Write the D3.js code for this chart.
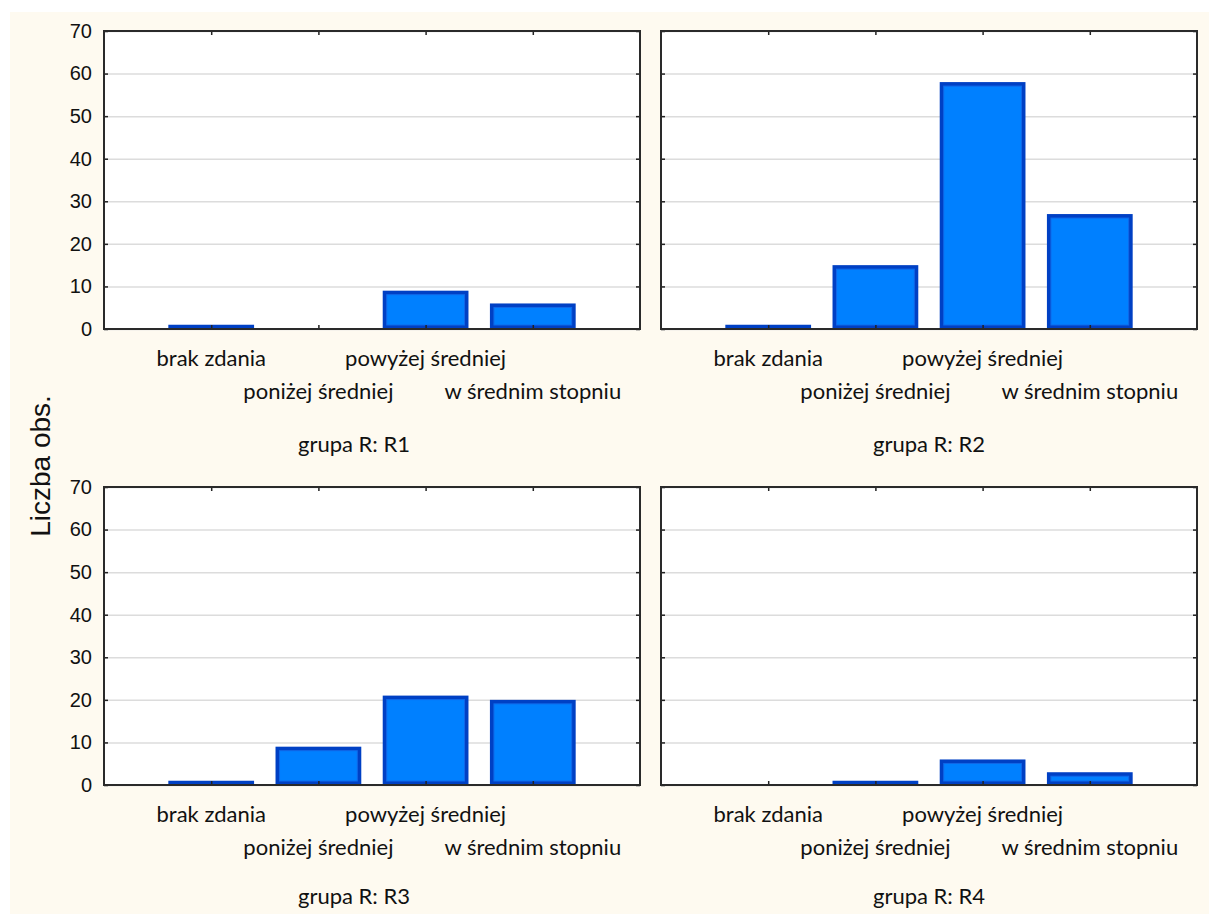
<!DOCTYPE html>
<html>
<head>
<meta charset="utf-8">
<script src="https://cdn.jsdelivr.net/npm/d3@7"></script>
<style>
  body { margin: 0; background: #fff; }
  svg { display: block; }
</style>
</head>
<body>
<div id="chart"></div>
<script>
// Data
const categories = ["brak zdania", "poniżej średniej", "powyżej średniej", "w średnim stopniu"];
const groups = ["R1", "R2", "R3", "R4"];
const valuesR1 = [1, 0, 9, 6];
const valuesR2 = [1, 15, 58, 27];
const valuesR3 = [1, 9, 21, 20];
const valuesR4 = [0, 1, 6, 3];
const yTicks = [0, 10, 20, 30, 40, 50, 60, 70];
const yLabel = "Liczba obs.";

const seriesValues = [valuesR1, valuesR2, valuesR3, valuesR4];

const svgWidth = 1209;
const svgHeight = 914;

const svg = d3.select("#chart")
  .append("svg")
  .attr("width", svgWidth)
  .attr("height", svgHeight);

// cream background of the graph window
svg.append("rect")
  .attr("x", 10)
  .attr("y", 12)
  .attr("width", svgWidth - 10)
  .attr("height", svgHeight - 12)
  .attr("fill", "#fefaf0");

// panel layout (plot areas)
const cols = [{ x0: 104, x1: 640, titleX: 354 }, { x0: 661, x1: 1197, titleX: 929 }];
const rows = [{ y0: 31, y1: 329, titleDy: 123 }, { y0: 487, y1: 785, titleDy: 119 }];

const labelFont = "Lato, 'Open Sans', sans-serif";
const numFont = "'Liberation Sans', Arial, sans-serif";

groups.forEach((grp, i) => {
  const col = cols[i % 2];
  const row = rows[Math.floor(i / 2)];
  const w = col.x1 - col.x0;
  const h = row.y1 - row.y0;
  const vals = seriesValues[i];

  const g = svg.append("g")
    .attr("transform", `translate(${col.x0}, ${row.y0})`);

  const x = d3.scalePoint()
    .domain(categories)
    .range([0, w])
    .padding(1);

  const y = d3.scaleLinear()
    .domain([0, 70])
    .range([h, 0]);

  const barW = x.step() * 0.8;

  // plot area
  g.append("rect")
    .attr("width", w)
    .attr("height", h)
    .attr("fill", "#fff");

  // grid lines
  const grid = g.append("g")
    .call(d3.axisLeft(y).tickValues(yTicks).tickSize(-w).tickFormat(""));
  grid.select(".domain").remove();
  grid.selectAll("line")
    .attr("stroke", "#dcdcdc")
    .attr("stroke-width", 1.5);

  // bars: dark outline rect + lighter inner fill
  const data = categories.map((c, k) => ({ cat: c, value: vals[k] })).filter(d => d.value > 0);

  g.selectAll("rect.bar-outer")
    .data(data)
    .join("rect")
    .attr("class", "bar-outer")
    .attr("x", d => x(d.cat) - barW / 2)
    .attr("y", d => y(d.value))
    .attr("width", barW)
    .attr("height", d => h - y(d.value))
    .attr("fill", "#0040c4");

  const inset = 4;
  g.selectAll("rect.bar-inner")
    .data(data.filter(d => h - y(d.value) > inset * 2))
    .join("rect")
    .attr("class", "bar-inner")
    .attr("x", d => x(d.cat) - barW / 2 + inset)
    .attr("y", d => y(d.value) + inset)
    .attr("width", barW - inset * 2)
    .attr("height", d => h - y(d.value) - inset * 2)
    .attr("fill", "#0080ff")
    .attr("stroke", "#1068e8")
    .attr("stroke-width", 1);

  // inward ticks on all four sides
  const left = g.append("g")
    .call(d3.axisLeft(y).tickValues(yTicks).tickSize(-4).tickPadding(12)
      .tickFormat(i % 2 === 0 ? d3.format("d") : ""));
  left.select(".domain").remove();
  left.selectAll("text")
    .attr("font-family", numFont)
    .attr("font-size", 20)
    .attr("fill", "#111");

  const right = g.append("g")
    .attr("transform", `translate(${w}, 0)`)
    .call(d3.axisRight(y).tickValues(yTicks).tickSize(-4).tickFormat(""));
  right.select(".domain").remove();

  const bottom = g.append("g")
    .attr("transform", `translate(0, ${h})`)
    .call(d3.axisBottom(x).tickSize(-4).tickFormat(""));
  bottom.select(".domain").remove();

  const top = g.append("g")
    .call(d3.axisTop(x).tickSize(-4).tickFormat(""));
  top.select(".domain").remove();

  g.selectAll(".tick line")
    .filter(function() { return this.parentNode.parentNode !== grid.node(); })
    .attr("stroke", "#222")
    .attr("stroke-width", 1.5);

  // frame
  g.append("rect")
    .attr("width", w)
    .attr("height", h)
    .attr("fill", "none")
    .attr("stroke", "#2a2a2a")
    .attr("stroke-width", 2);

  // staggered category labels
  g.selectAll("text.cat")
    .data(categories)
    .join("text")
    .attr("class", "cat")
    .attr("x", d => x(d))
    .attr("y", (d, k) => h + (k % 2 === 0 ? 37 : 70))
    .attr("text-anchor", "middle")
    .attr("font-family", labelFont)
    .attr("font-size", 22)
    .attr("fill", "#111")
    .text(d => d);

  // panel title
  svg.append("text")
    .attr("x", col.titleX)
    .attr("y", row.y1 + row.titleDy)
    .attr("text-anchor", "middle")
    .attr("font-family", labelFont)
    .attr("font-size", 22)
    .attr("fill", "#111")
    .text(`grupa R: ${grp}`);
});

// y axis title
svg.append("text")
  .attr("transform", "translate(50, 466) rotate(-90)")
  .attr("text-anchor", "middle")
  .attr("font-family", numFont)
  .attr("font-size", 28)
  .attr("fill", "#111")
  .text(yLabel);
</script>
</body>
</html>
